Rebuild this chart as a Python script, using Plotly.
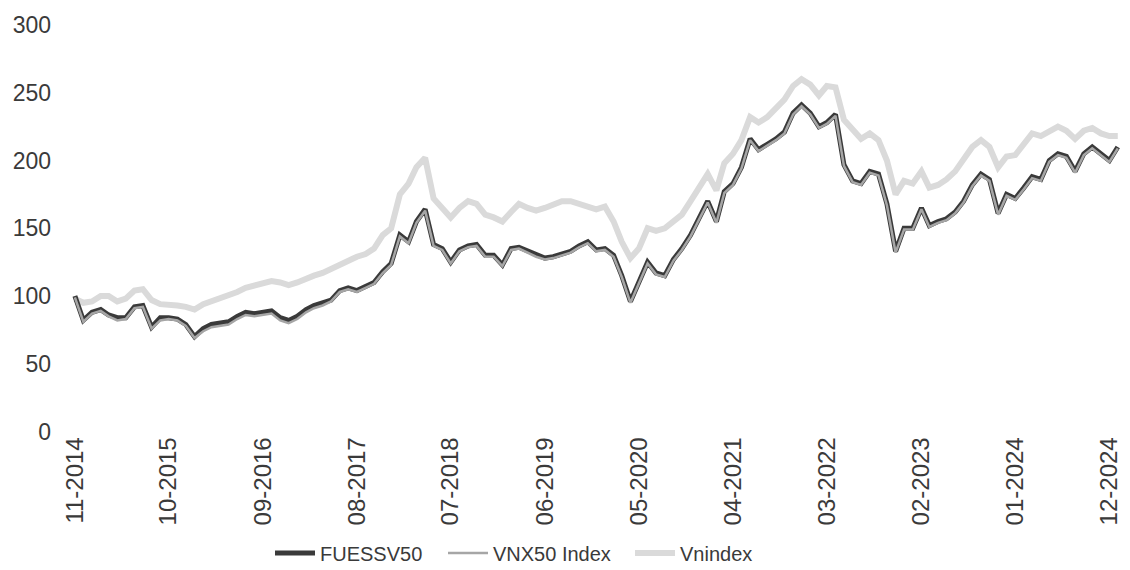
import pandas as pd
import plotly.graph_objects as go

# Monthly observations, Nov 2014 .. Dec 2024, plus a closing point at year end
months = list(pd.date_range("2014-11-01", "2024-12-01", freq="MS").strftime("%Y-%m-%d")) + ["2024-12-31"]

fuessv50 = [
    100, 82, 88, 90, 86, 84, 84, 92, 93, 77, 84, 84, 83, 79, 70, 76, 79, 80, 81, 85,
    88, 87, 88, 89, 84, 82, 85, 90, 93, 95, 97, 104, 106, 104, 107, 110, 118, 124, 145, 140,
    155, 164, 138, 135, 125, 134, 137, 138, 130, 130, 123, 135, 136, 133, 130, 128, 129, 131, 133, 137,
    140, 134, 135, 130, 115, 96, 110, 125, 117, 115, 127, 135, 145, 157, 170, 155, 177, 183, 195, 216,
    208, 212, 216, 221, 235, 241, 235, 225, 228, 234, 197, 185, 183, 192, 190, 168, 133, 150, 150, 165,
    152, 155, 157, 162, 170, 182, 190, 186, 161, 175, 172, 180, 188, 186, 200, 205, 203, 192, 205, 210,
    205, 200, 210,
]

vnx50 = [
    99, 81, 87, 89, 85, 82, 83, 91, 92, 76, 82, 83, 82, 78, 69, 74, 77, 78, 79, 83,
    86, 85, 86, 87, 82, 80, 83, 88, 91, 93, 96, 103, 105, 103, 106, 109, 117, 123, 144, 139,
    154, 163, 137, 134, 124, 133, 136, 137, 129, 129, 122, 134, 135, 132, 129, 127, 128, 130, 132, 136,
    139, 133, 134, 129, 114, 95, 109, 124, 116, 114, 126, 134, 144, 156, 169, 154, 176, 182, 194, 215,
    207, 211, 215, 220, 234, 240, 234, 224, 227, 233, 196, 184, 182, 191, 189, 167, 132, 149, 149, 164,
    151, 154, 156, 161, 169, 181, 189, 185, 160, 174, 171, 179, 187, 185, 199, 204, 202, 191, 204, 209,
    204, 199, 209,
]

vnindex = [
    98, 95, 96, 100, 100, 96, 98, 104, 105, 97, 94, 94, 93, 92, 90, 94, 96, 98, 100, 103,
    106, 108, 110, 111, 110, 108, 110, 113, 115, 117, 120, 124, 127, 129, 131, 135, 145, 150, 175, 183,
    195, 202, 172, 165, 158, 165, 170, 168, 160, 158, 155, 162, 168, 165, 163, 165, 168, 170, 170, 168,
    165, 164, 166, 155, 140, 128, 135, 150, 148, 150, 155, 160, 170, 180, 190, 178, 198, 205, 215, 232,
    228, 232, 238, 245, 255, 260, 256, 248, 255, 254, 230, 222, 216, 220, 215, 200, 175, 185, 183, 192,
    180, 182, 186, 192, 200, 210, 215, 210, 195, 203, 204, 212, 220, 218, 222, 225, 222, 216, 222, 224,
    220, 218, 218,
]

tick_dates = ["2014-11-01", "2015-10-01", "2016-09-01", "2017-08-01", "2018-07-01", "2019-06-01",
              "2020-05-01", "2021-04-01", "2022-03-01", "2023-02-01", "2024-01-01", "2024-12-01"]
tick_labels = ["11-2014", "10-2015", "09-2016", "08-2017", "07-2018", "06-2019",
               "05-2020", "04-2021", "03-2022", "02-2023", "01-2024", "12-2024"]

ink = "#3a3a3a"
fig = go.Figure()
fig.add_trace(go.Scatter(x=months, y=vnindex, name="Vnindex", mode="lines",
                         line=dict(color="#dadada", width=6), legend="legend3"))
fig.add_trace(go.Scatter(x=months, y=fuessv50, name="FUESSV50", mode="lines",
                         line=dict(color=ink, width=5), legend="legend"))
fig.add_trace(go.Scatter(x=months, y=vnx50, name="VNX50 Index", mode="lines",
                         line=dict(color="#a6a6a6", width=2.5), legend="legend2"))

font_family = "Liberation Sans, Arial, sans-serif"


def legend_box(x_px):
    # one legend entry placed at a pixel offset along the bottom strip
    return dict(orientation="h", xref="container", yref="container",
                x=x_px / 1130, y=0.03, xanchor="left", yanchor="middle",
                font=dict(size=20, color=ink), itemwidth=40,
                bgcolor="rgba(0,0,0,0)")


fig.update_layout(
    width=1130, height=570,
    margin=dict(l=60, r=8, t=25, b=133),
    paper_bgcolor="white", plot_bgcolor="white",
    font=dict(family=font_family, color=ink),
    showlegend=True,
    legend=legend_box(270),
    legend2=legend_box(443),
    legend3=legend_box(630),
    xaxis=dict(type="date", range=["2014-09-09", "2025-01-15"],
               tickmode="array", tickvals=tick_dates, ticktext=tick_labels,
               tickangle=-90, tickfont=dict(size=24, color=ink),
               showgrid=False, zeroline=False, showline=False, ticks=""),
    yaxis=dict(range=[0, 300], tickmode="array", tickvals=[0, 50, 100, 150, 200, 250, 300],
               tickfont=dict(size=23, color=ink),
               showgrid=False, zeroline=False, showline=False, ticks="", ticklabelstandoff=8),
)

fig.write_html("out.html")
